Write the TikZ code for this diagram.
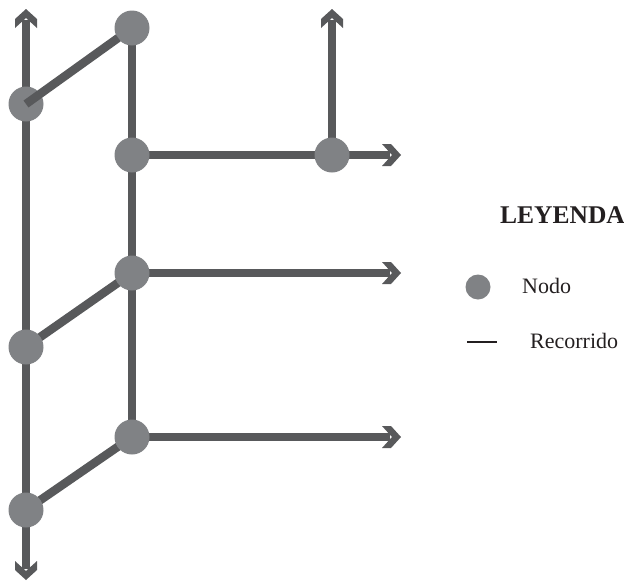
\documentclass[tikz,border=0pt]{standalone}
\usepackage{fontspec}
\setmainfont{Liberation Serif}
\usetikzlibrary{arrows.meta}
\definecolor{linegrey}{HTML}{58595B}
\definecolor{nodegrey}{HTML}{808285}
\definecolor{textdark}{HTML}{231F20}

% chevron tip: two slanted bars meeting at the point
\pgfdeclarearrow{
  name = Chevron,
  setup code = {
    \pgfarrowssettipend{0pt}
    \pgfarrowssetlineend{-11pt}
    \pgfarrowssetbackend{-19pt}
    \pgfarrowshullpoint{0pt}{0pt}
    \pgfarrowshullpoint{-19pt}{11pt}
    \pgfarrowshullpoint{-19pt}{-11pt}
  },
  drawing code = {
    \pgfpathmoveto{\pgfpoint{0pt}{0pt}}
    \pgfpathlineto{\pgfpoint{-10pt}{11pt}}
    \pgfpathlineto{\pgfpoint{-19pt}{11pt}}
    \pgfpathlineto{\pgfpoint{-9pt}{0pt}}
    \pgfpathlineto{\pgfpoint{-19pt}{-11pt}}
    \pgfpathlineto{\pgfpoint{-10pt}{-11pt}}
    \pgfpathclose
    \pgfusepathqfill
  }
}

\tikzset{
  route/.style={color=linegrey, line width=8.5pt},
  routearrow/.style={route, -{Chevron}},
  stop/.style={circle, fill=nodegrey, minimum size=35pt, inner sep=0pt},
  legendtext/.style={text=textdark, inner sep=0pt, anchor=base west},
}
\begin{document}
\begin{tikzpicture}[x=1pt,y=-1pt]
\useasboundingbox (0,0) rectangle (624,581);

% junction positions
\coordinate (a1) at (26,104);
\coordinate (a2) at (26,347);
\coordinate (a3) at (26,510);
\coordinate (b1) at (132,28);
\coordinate (b2) at (132,155);
\coordinate (b3) at (132,273);
\coordinate (b4) at (132,437);
\coordinate (c1) at (332,155);

% free ends of the routes
\coordinate (topL) at (26,9);
\coordinate (botL) at (26,580);
\coordinate (topR) at (332,9);
\coordinate (e1) at (401,155);
\coordinate (e2) at (401,273);
\coordinate (e3) at (401,437);

% routes
\draw[routearrow] (a1) -- (topL);
\draw[routearrow] (a3) -- (botL);
\draw[route] (a1) -- (a3);
\draw[route] (b1) -- (b4);
\draw[routearrow] (c1) -- (topR);
\draw[routearrow] (b2) -- (e1);
\draw[routearrow] (b3) -- (e2);
\draw[routearrow] (b4) -- (e3);
\draw[route] (a2) -- (b3);
\draw[route] (a3) -- (b4);

% stops
\foreach \p in {a1,a2,a3,b1,b2,b3,b4,c1}
  \node[stop] (\p n) at (\p) {};

% diagonal crossing over the upper-left stop
\draw[route, shorten >=17pt] (a1) -- (b1);

% legend
\node[legendtext, font=\bfseries\fontsize{25.5}{30}\selectfont] (leg) at (500,223) {LEYENDA};
\node[stop, minimum size=25pt] (legstop) at (478,287) {};
\node[legendtext, font=\fontsize{22}{26}\selectfont] (legstoptext) at (522,293) {Nodo};
\coordinate (legl1) at (467,342);
\coordinate (legl2) at (497,342);
\draw[textdark, line width=2pt] (legl1) -- (legl2);
\node[legendtext, font=\fontsize{22}{26}\selectfont] (legroutetext) at (530,348) {Recorrido};
\end{tikzpicture}
\end{document}
